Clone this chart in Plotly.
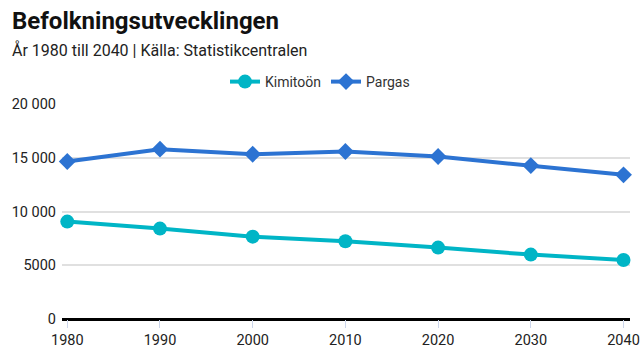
import plotly.graph_objects as go

years = [1980, 1990, 2000, 2010, 2020, 2030, 2040]
kimitoon = [9060, 8410, 7660, 7230, 6640, 5990, 5490]
pargas = [14650, 15800, 15330, 15580, 15110, 14270, 13410]
ytick_vals = [0, 5000, 10000, 15000, 20000]
ytick_text = ["0", "5000", "10 000", "15 000", "20 000"]

FONT = "Roboto"
PLOT_H = 215
PLOT_W = 568

fig = go.Figure()
fig.add_trace(go.Scatter(x=years, y=kimitoon, name="Kimitoön", mode="lines+markers",
                         line=dict(color="#00b5c6", width=4),
                         marker=dict(symbol="circle", size=14, color="#00b5c6"),
                         cliponaxis=False))
fig.add_trace(go.Scatter(x=years, y=pargas, name="Pargas", mode="lines+markers",
                         line=dict(color="#2c73d2", width=4),
                         marker=dict(symbol="diamond", size=13, color="#2c73d2"),
                         cliponaxis=False))

fig.update_layout(
    width=640, height=360,
    margin=dict(l=62, r=10, t=104, b=41, autoexpand=False),
    paper_bgcolor="white", plot_bgcolor="white",
    font=dict(family=FONT, color="#333333", size=14),
    showlegend=True,
    legend=dict(orientation="h", x=(320 - 62) / PLOT_W, xanchor="center",
                y=1 + (104 - 82) / PLOT_H, yanchor="middle",
                font=dict(size=14, color="#333333"),
                itemwidth=30, traceorder="normal"),
    xaxis=dict(range=[1979.43, 2040.7], tickvals=years, ticks="outside", ticklen=8,
               tickcolor="#ccd6eb", showgrid=False, zeroline=False, showline=False,
               automargin=False, ticklabeloverflow="allow",
               tickfont=dict(size=14.5, color="#222222")),
    yaxis=dict(range=[0, 20000], tickvals=ytick_vals, ticktext=ytick_text,
               showgrid=True, gridcolor="#e0e0e0", gridwidth=1.5, zeroline=True,
               zerolinecolor="#000000", zerolinewidth=2.5, ticks="", ticklabelstandoff=5,
               automargin=False,
               tickfont=dict(size=14.5, color="#222222")),
    annotations=[
        dict(text="<b>Befolkningsutvecklingen</b>", xref="paper", yref="paper",
             x=(10 - 62) / PLOT_W, y=1 + (104 - 21) / PLOT_H, xanchor="left", yanchor="middle",
             showarrow=False, font=dict(size=24, color="#111111", family=FONT)),
        dict(text="År 1980 till 2040 | Källa: Statistikcentralen", xref="paper", yref="paper",
             x=(10 - 62) / PLOT_W, y=1 + (104 - 50) / PLOT_H, xanchor="left", yanchor="middle",
             showarrow=False, font=dict(size=16, color="#222222", family=FONT)),
    ],
)
fig.write_html("out.html", config={"displayModeBar": False},
               post_script="document.body.style.margin='0';")
